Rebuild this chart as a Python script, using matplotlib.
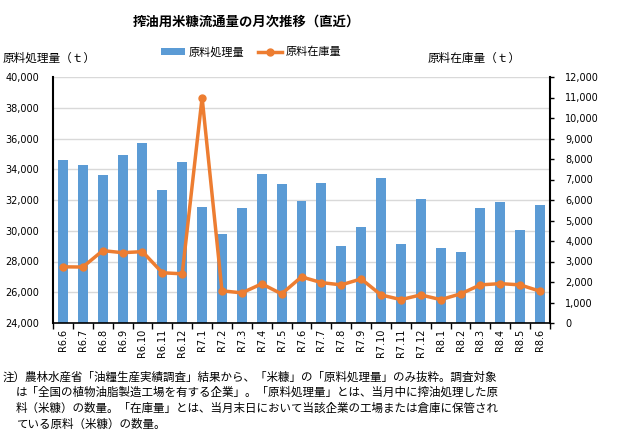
import matplotlib
matplotlib.use('Agg')
import matplotlib.pyplot as plt
from matplotlib.ticker import FuncFormatter, MultipleLocator

plt.rcParams['font.family'] = ['Noto Sans CJK JP', 'DejaVu Sans']

# data
months = ['R6.6', 'R6.7', 'R6.8', 'R6.9', 'R6.10', 'R6.11', 'R6.12',
          'R7.1', 'R7.2', 'R7.3', 'R7.4', 'R7.5', 'R7.6', 'R7.7', 'R7.8',
          'R7.9', 'R7.10', 'R7.11', 'R7.12', 'R8.1', 'R8.2', 'R8.3',
          'R8.4', 'R8.5', 'R8.6']
processed = [34600, 34300, 33600, 34900, 35700, 32650, 34500,
             31550, 29800, 31480, 33700, 33040, 31920, 33130, 29030,
             30270, 33450, 29160, 32090, 28900, 28640, 31500,
             31890, 30070, 31700]
stock = [2740, 2730, 3530, 3430, 3480, 2450, 2400,
         11000, 1570, 1470, 1910, 1420, 2250, 1970, 1860,
         2150, 1370, 1140, 1370, 1140, 1420, 1860,
         1920, 1860, 1550]

note_lines = [
    '注）農林水産省「油糧生産実績調査」結果から、「米糠」の「原料処理量」のみ抜粋。調査対象',
    'は「全国の植物油脂製造工場を有する企業」。「原料処理量」とは、当月中に搾油処理した原',
    '料（米糠）の数量。「在庫量」とは、当月末日において当該企業の工場または倉庫に保管され',
    'ている原料（米糠）の数量。',
]

W, H = 632, 433
fig = plt.figure(figsize=(W / 100, H / 100), dpi=100)
ax = fig.add_axes([53 / W, 1 - 323 / H, (550 - 53) / W, (323 - 77) / H])
ax2 = ax.twinx()

x = list(range(len(months)))
bars = ax.bar(x, processed, width=0.5, color='#5B9BD5', label='原料処理量', zorder=2)
line, = ax2.plot(x, stock, color='#ED7D31', lw=2.5, marker='o', ms=5,
                 label='原料在庫量', zorder=3)

ax.set_xlim(-0.5, len(months) - 0.5)
ax.set_ylim(24000, 40000)
ax2.set_ylim(0, 12000)
ax.yaxis.set_major_locator(MultipleLocator(2000))
ax2.yaxis.set_major_locator(MultipleLocator(1000))
fmt = FuncFormatter(lambda v, p: f'{int(v):,}')
ax.yaxis.set_major_formatter(fmt)
ax2.yaxis.set_major_formatter(fmt)

ax.grid(axis='y', color='#d9d9d9', lw=1, zorder=0)
ax.set_axisbelow(True)

ax.set_xticks(x)
ax.set_xticklabels(months, rotation=90, fontsize=7, family='DejaVu Sans')
ax.set_xticks([i - 0.5 for i in range(len(months) + 1)], minor=True)
ax.tick_params(axis='x', which='major', length=0, pad=4)
ax.tick_params(axis='x', which='minor', length=4, width=1, direction='out')
ax.tick_params(axis='y', length=0, pad=10, labelsize=7)
ax2.tick_params(axis='y', length=3, width=1, direction='out', pad=8, labelsize=7)
for lab in ax.get_yticklabels() + ax2.get_yticklabels():
    lab.set_family('DejaVu Sans')

for a in (ax, ax2):
    a.spines['top'].set_visible(False)
ax2.spines['left'].set_visible(False)
ax2.spines['bottom'].set_visible(False)
ax.spines['right'].set_visible(False)
ax.spines['left'].set_linewidth(1.5)
ax.spines['bottom'].set_linewidth(1.2)
ax2.spines['right'].set_linewidth(1.5)

fig.text(246 / W, 1 - 22 / H, '搾油用米糠流通量の月次推移（直近）', ha='center', va='center',
         fontsize=9.6, fontweight='bold')
fig.text(3 / W, 1 - 58 / H, '原料処理量（ｔ）', ha='left', va='center', fontsize=8.4)
fig.text(428 / W, 1 - 58 / H, '原料在庫量（ｔ）', ha='left', va='center', fontsize=8.4)

fig.legend(handles=[bars, line], loc='center', bbox_to_anchor=(251 / W, 1 - 52 / H),
           ncol=2, frameon=False, fontsize=8, handlelength=2.2, columnspacing=1.2,
           handletextpad=0.3)

ys = [377, 392, 408, 424]
for i, (t, yy) in enumerate(zip(note_lines, ys)):
    fig.text((3 if i == 0 else 16) / W, 1 - yy / H, t, ha='left', va='center', fontsize=8.3)

fig.savefig('out.png', dpi=100)
